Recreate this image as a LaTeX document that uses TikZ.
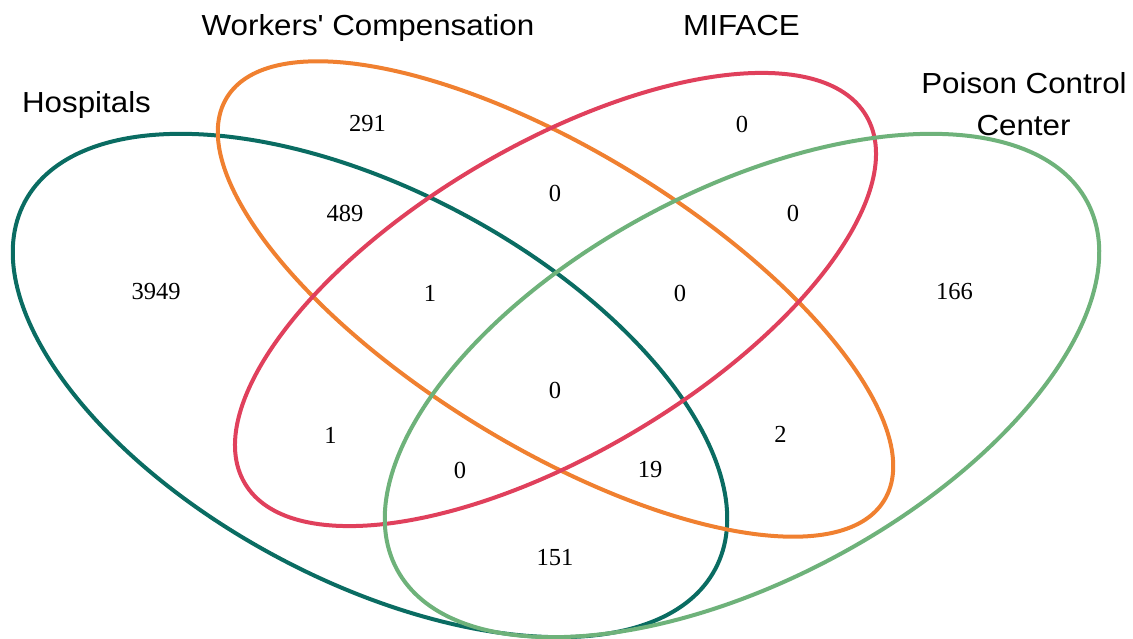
\documentclass[tikz,border=0pt]{standalone}
\usepackage{fontspec}
\setmainfont{Liberation Serif}
\newfontfamily\labelfont{Liberation Sans}[FakeStretch=1.08]
\definecolor{hospcol}{RGB}{10,108,98}
\definecolor{workcol}{RGB}{240,128,48}
\definecolor{mifacecol}{RGB}{224,64,92}
\definecolor{poisoncol}{RGB}{110,178,122}
\begin{document}
\begin{tikzpicture}[x=1pt,y=-1pt,
  setline/.style={line width=4pt},
  setname/.style={font=\labelfont\fontsize{29}{34}\selectfont, inner sep=0pt, anchor=base},
  count/.style={font=\fontsize{24.5}{28}\selectfont, inner sep=0pt}]
\useasboundingbox (0,0) rectangle (1133,639);

% the four sets
\draw[setline, hospcol, rotate around={-28:(370,385.5)}]
  (370,385.5) ellipse [x radius=391, y radius=195];
\draw[setline, workcol, rotate around={-31.5:(555.5,299)}]
  (555.5,299) ellipse [x radius=385.5, y radius=148];
\draw[setline, mifacecol, rotate around={30.6:(555.5,299.5)}]
  (555.5,299.5) ellipse [x radius=361, y radius=154];
\draw[setline, poisoncol, rotate around={28:(742,385.5)}]
  (742,385.5) ellipse [x radius=391, y radius=195];

% set names
\node[setname] (hosp) at (86.5,113) {Hospitals};
\node[setname] (work) at (368,35.7) {Workers' Compensation};
\node[setname] (miface) at (741.5,35.7) {MIFACE};
\node[setname] (poison) at (1024,93.3) {Poison Control};
\node[setname] (poison2) at (1023.5,136) {Center};

% region counts
\node[count] (n1) at (367.5,124) {291};
\node[count] (n2) at (742,124) {0};
\node[count] (n3) at (345,213) {489};
\node[count] (n4) at (555,193) {0};
\node[count] (n5) at (793,213) {0};
\node[count] (n6) at (156,292) {3949};
\node[count] (n7) at (430,293) {1};
\node[count] (n8) at (680,293) {0};
\node[count] (n9) at (954.5,292) {166};
\node[count] (n10) at (555,390) {0};
\node[count] (n11) at (330.5,435) {1};
\node[count] (n12) at (780.5,434) {2};
\node[count] (n13) at (460,470) {0};
\node[count] (n14) at (650,470) {19};
\node[count] (n15) at (555,557.5) {151};
\end{tikzpicture}
\end{document}
